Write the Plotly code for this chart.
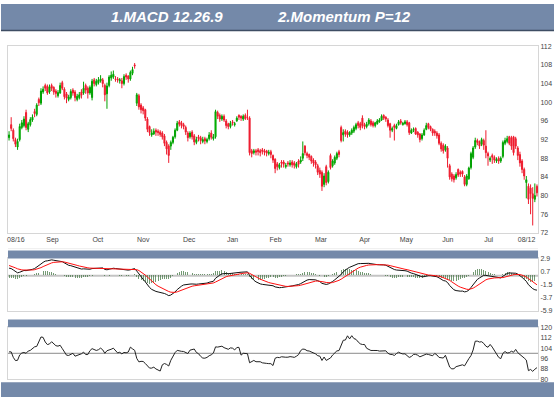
import plotly.graph_objects as go
import pandas as pd

W, H = 554, 400

# closes before the first visible day (used only to warm up MACD / Momentum)
warmup_close = [
    84.0, 84.6, 85.2, 84.8, 85.6, 86.4, 86.0, 86.8, 87.4, 87.0,
    87.8, 88.4, 88.0, 88.9, 89.6, 89.2, 90.0, 90.6, 90.2, 91.0,
    91.6, 91.2, 92.0, 92.6, 92.2, 93.0, 93.4, 92.6, 92.0, 93.4,
    95.2, 96.4, 96.8, 96.0, 95.4, 95.8, 94.6, 93.8, 94.2, 93.6,
]

opens = [
    92.4, 95.2, 94.0, 92.0, 90.4, 92.0, 94.6, 95.0, 97.8, 94.2,
    95.2, 96.2, 98.0, 97.4, 100.6, 99.8, 102.2, 103.6, 103.4, 102.2,
    103.6, 103.2, 102.4, 101.4, 102.0, 104.2, 102.8, 101.8, 100.6, 101.0,
    102.6, 102.2, 100.6, 101.0, 102.2, 102.0, 103.6, 103.0, 102.0, 101.0,
    104.8, 103.8, 104.2, 104.6, 104.8, 103.6, 101.8, 103.6, 105.2, 105.4,
    105.0, 105.0, 104.6, 104.6, 104.0, 105.8, 105.6, 105.0, 106.2, 108.0,
    99.8, 101.4, 99.4, 98.8, 98.4, 96.4, 94.8, 93.0, 93.2, 94.0,
    93.8, 93.6, 93.4, 92.8, 91.4, 90.6, 90.6, 91.4, 92.6, 94.0,
    95.8, 95.6, 95.2, 94.6, 93.4, 92.6, 93.6, 92.8, 91.4, 92.6,
    92.4, 91.6, 92.2, 91.6, 92.2, 93.4, 92.2, 92.6, 97.8, 97.2,
    96.4, 97.0, 96.0, 95.4, 94.8, 95.8, 95.2, 96.0, 97.2, 97.0,
    96.4, 97.2, 96.8, 96.6, 89.6, 89.2, 89.6, 89.8, 89.6, 89.8,
    89.6, 89.6, 89.0, 89.4, 88.6, 87.8, 86.8, 86.0, 87.2, 87.2,
    86.2, 87.0, 86.6, 87.2, 87.0, 86.2, 87.4, 87.2, 88.0, 90.6,
    89.0, 88.8, 88.4, 87.6, 87.2, 86.4, 85.4, 85.0, 82.4, 86.2,
    83.0, 88.6, 86.4, 87.0, 88.0, 89.4, 94.6, 93.0, 93.8, 93.6,
    93.0, 93.4, 93.8, 94.4, 95.6, 95.4, 96.6, 95.2, 94.8, 95.4,
    96.0, 95.6, 95.0, 95.4, 95.8, 96.2, 97.2, 96.8, 96.2, 95.4,
    94.0, 95.0, 94.4, 95.2, 96.0, 95.2, 95.4, 95.8, 95.6, 93.4,
    94.0, 94.4, 93.6, 93.2, 92.2, 93.0, 94.2, 95.4, 94.8, 94.2,
    93.8, 93.4, 93.0, 91.2, 90.8, 89.8, 90.2, 86.4, 84.6, 84.2,
    83.8, 85.6, 85.0, 85.2, 84.0, 82.4, 83.6, 86.0, 88.2, 90.4,
    91.8, 91.6, 91.0, 91.8, 90.6, 89.0, 87.6, 88.6, 88.2, 87.4,
    88.0, 87.4, 88.4, 91.2, 91.6, 92.6, 92.4, 92.6, 92.2, 90.2,
    88.8, 87.4, 85.6, 82.8, 82.0, 81.6, 80.4, 79.2, 82.0,
]

highs = [
    93.8, 96.8, 94.4, 92.4, 92.2, 95.4, 96.2, 97.0, 98.4, 95.8,
    96.8, 97.4, 98.6, 99.8, 101.0, 103.0, 103.4, 104.0, 103.8, 103.8,
    104.0, 103.4, 102.8, 102.6, 104.2, 104.6, 103.2, 102.2, 101.6, 102.8,
    103.0, 102.6, 101.8, 102.2, 102.8, 104.4, 104.0, 103.4, 103.6, 105.0,
    105.2, 105.0, 105.4, 105.8, 105.2, 104.0, 104.2, 105.8, 106.6, 106.8,
    105.6, 105.4, 105.2, 105.2, 106.0, 106.2, 105.8, 106.8, 107.6, 108.4,
    102.0, 101.8, 99.8, 99.2, 98.6, 96.8, 95.0, 94.2, 94.4, 94.4,
    94.2, 94.0, 93.8, 93.2, 91.8, 91.0, 91.8, 92.8, 94.4, 96.0,
    96.2, 96.0, 95.6, 95.0, 93.8, 93.8, 94.0, 93.2, 92.6, 93.0,
    92.8, 92.6, 92.6, 92.4, 93.6, 94.0, 93.2, 98.4, 98.2, 97.6,
    97.4, 97.4, 96.4, 95.6, 96.0, 96.2, 95.8, 97.0, 97.4, 97.2,
    97.4, 97.6, 98.4, 97.0, 90.0, 90.0, 90.0, 90.2, 90.0, 90.2,
    90.0, 89.8, 89.8, 89.8, 88.8, 88.0, 87.2, 87.0, 87.6, 87.6,
    87.0, 87.4, 87.6, 87.6, 87.4, 87.2, 87.8, 88.4, 91.6, 90.8,
    89.4, 89.0, 88.6, 88.0, 87.6, 86.8, 86.0, 85.4, 84.8, 86.6,
    85.4, 89.0, 87.8, 88.6, 89.4, 89.8, 95.0, 94.2, 94.2, 94.0,
    93.8, 94.4, 95.0, 95.6, 96.0, 95.8, 97.2, 95.6, 95.8, 96.6,
    96.4, 96.0, 95.8, 96.4, 96.6, 97.4, 97.4, 97.0, 96.6, 95.6,
    94.8, 95.4, 95.4, 96.2, 96.4, 95.8, 96.2, 96.2, 95.8, 94.4,
    94.6, 94.6, 93.8, 93.4, 93.4, 94.4, 95.6, 95.6, 95.0, 94.4,
    94.2, 93.8, 93.4, 91.6, 91.2, 91.0, 90.6, 86.8, 85.0, 84.6,
    85.0, 85.8, 85.4, 85.4, 84.4, 84.6, 86.2, 89.4, 90.6, 92.4,
    92.2, 91.8, 92.4, 92.2, 94.0, 89.4, 88.4, 89.0, 88.6, 88.2,
    88.4, 88.4, 91.8, 92.4, 92.8, 92.8, 92.8, 92.8, 92.6, 90.6,
    89.4, 87.8, 86.0, 84.2, 82.6, 82.4, 81.8, 82.6, 82.4,
]

lows = [
    91.8, 93.8, 91.6, 90.4, 89.8, 91.6, 94.2, 94.6, 94.0, 93.6,
    94.8, 95.8, 96.8, 97.0, 99.2, 99.4, 101.8, 102.4, 101.6, 101.8,
    102.4, 101.6, 101.0, 101.0, 101.8, 102.6, 100.6, 99.8, 100.2, 100.6,
    101.4, 100.2, 100.2, 100.6, 100.8, 101.6, 101.8, 100.8, 101.6, 100.4,
    103.4, 103.4, 103.8, 104.2, 103.2, 100.2, 98.6, 103.2, 104.6, 105.0,
    104.4, 104.2, 104.0, 103.0, 103.6, 104.8, 104.2, 104.6, 105.8, 107.2,
    99.2, 98.4, 97.6, 97.4, 96.0, 93.6, 92.8, 92.6, 93.0, 92.8,
    92.8, 92.6, 92.0, 90.6, 88.8, 87.0, 89.8, 91.0, 92.2, 93.8,
    94.8, 94.4, 94.2, 93.0, 91.6, 92.2, 92.0, 90.8, 91.0, 91.6,
    91.0, 91.2, 91.0, 91.2, 91.8, 92.0, 91.8, 92.2, 96.4, 95.8,
    96.0, 95.8, 94.4, 94.2, 94.4, 95.0, 94.8, 95.8, 96.2, 96.0,
    96.0, 96.2, 96.2, 88.6, 88.2, 88.8, 88.6, 88.6, 88.4, 88.8,
    88.6, 88.4, 88.6, 88.0, 87.0, 84.8, 85.4, 85.6, 86.0, 86.0,
    85.8, 86.2, 86.2, 86.0, 85.8, 85.8, 86.0, 86.8, 87.4, 88.6,
    88.0, 87.6, 86.8, 86.2, 85.8, 84.4, 83.8, 81.0, 81.8, 82.2,
    82.6, 85.6, 86.0, 86.6, 87.6, 88.2, 91.4, 91.6, 92.6, 92.4,
    92.6, 93.0, 93.4, 94.0, 94.4, 94.0, 94.4, 94.2, 94.4, 95.0,
    94.8, 94.6, 94.6, 95.2, 95.6, 96.0, 96.2, 95.8, 94.6, 92.4,
    93.6, 91.8, 94.2, 95.0, 95.2, 95.0, 95.2, 94.8, 93.0, 93.2,
    93.6, 93.0, 92.4, 91.4, 91.8, 92.8, 94.0, 94.2, 93.8, 92.8,
    92.8, 92.2, 90.8, 89.4, 89.0, 89.4, 86.0, 83.4, 83.0, 82.8,
    83.4, 84.0, 84.0, 84.0, 82.0, 82.0, 83.4, 85.6, 87.8, 90.0,
    90.8, 90.0, 90.6, 89.8, 88.0, 86.4, 87.2, 86.8, 87.0, 87.0,
    86.8, 87.0, 88.0, 90.8, 91.2, 90.8, 89.8, 88.6, 90.0, 87.6,
    86.2, 84.8, 83.4, 79.4, 78.2, 76.0, 73.6, 78.6, 79.8,
]

closes = [
    93.0, 94.4, 92.2, 91.0, 91.6, 94.8, 95.6, 96.4, 94.6, 95.4,
    96.3, 96.8, 97.6, 99.4, 99.9, 102.4, 102.8, 103.0, 102.0, 103.3,
    103.0, 102.2, 101.9, 102.1, 103.6, 103.0, 101.2, 100.9, 101.1, 102.3,
    102.0, 101.0, 101.3, 101.6, 101.5, 103.0, 102.6, 102.0, 103.2, 104.5,
    104.0, 104.5, 104.8, 105.0, 104.0, 101.6, 103.5, 105.4, 105.8, 106.0,
    104.9, 104.8, 104.8, 104.0, 105.5, 105.4, 105.0, 106.4, 107.0, 107.8,
    101.6, 99.0, 98.4, 98.2, 96.6, 94.2, 93.5, 93.4, 93.8, 93.6,
    93.5, 93.1, 92.6, 91.2, 90.0, 88.6, 91.4, 92.5, 94.0, 95.5,
    95.3, 95.0, 94.8, 93.6, 92.4, 93.4, 92.6, 91.5, 92.0, 92.2,
    91.8, 92.0, 91.7, 92.0, 93.0, 92.5, 92.6, 98.0, 97.0, 96.4,
    97.0, 96.2, 95.0, 94.8, 95.5, 95.6, 95.4, 96.6, 96.8, 96.6,
    97.0, 96.5, 96.7, 89.2, 89.0, 89.6, 89.3, 89.4, 89.2, 89.5,
    89.3, 89.1, 89.3, 88.8, 87.6, 85.8, 86.2, 86.6, 86.9, 86.7,
    86.5, 86.8, 87.0, 86.6, 86.5, 86.8, 86.7, 87.6, 89.0, 89.2,
    88.6, 88.2, 87.4, 87.0, 86.6, 85.0, 84.6, 82.0, 84.2, 82.8,
    85.0, 86.0, 87.4, 88.2, 89.0, 88.8, 91.8, 93.5, 93.2, 93.0,
    93.5, 94.0, 94.6, 95.2, 95.0, 94.6, 95.0, 94.8, 95.3, 96.2,
    95.2, 95.0, 95.6, 96.0, 96.2, 97.0, 96.6, 96.4, 95.0, 94.0,
    94.4, 94.6, 95.0, 95.8, 95.6, 95.5, 95.8, 95.2, 93.5, 94.0,
    94.2, 93.2, 93.0, 92.0, 93.0, 94.0, 95.0, 94.6, 94.2, 93.4,
    93.4, 92.8, 91.2, 90.0, 89.6, 90.6, 88.0, 84.0, 83.6, 83.4,
    84.5, 84.4, 84.6, 84.6, 82.4, 84.2, 85.9, 89.0, 90.2, 91.8,
    91.4, 90.6, 92.0, 90.8, 89.2, 88.5, 88.0, 88.2, 87.6, 87.8,
    87.4, 88.0, 91.4, 91.8, 92.2, 91.2, 90.6, 89.2, 90.6, 88.6,
    87.0, 85.6, 84.2, 83.4, 79.2, 80.4, 79.4, 80.0, 80.6,
]

x_tick_labels = ["08/16", "Sep", "Oct", "Nov", "Dec", "Jan", "Feb",
                 "Mar", "Apr", "May", "Jun", "Jul", "08/12"]
x_tick_index = [3.2, 20.4, 41.7, 63.0, 84.6, 105.0, 125.2,
                146.5, 167.1, 186.6, 206.1, 225.3, 243.1]

price_ticks = [72, 76, 80, 84, 88, 92, 96, 100, 104, 108, 112]
macd_ticks = [-5.9, -3.7, -1.5, 0.7, 2.9]
mom_ticks = [80, 88, 96, 104, 112, 120]

MACD_FAST, MACD_SLOW, MACD_SIG = 12, 26, 9
MOM_P = 12

# ---- indicators ----
all_close = pd.Series(warmup_close + closes, dtype=float)
ema_f = all_close.ewm(span=MACD_FAST, adjust=False).mean()
ema_s = all_close.ewm(span=MACD_SLOW, adjust=False).mean()
macd = ema_f - ema_s
signal = macd.ewm(span=MACD_SIG, adjust=False).mean()
hist = macd - signal
mom = all_close / all_close.shift(MOM_P) * 100.0

nw = len(warmup_close)
n = len(closes)
idx = list(range(n))
macd_v = macd.iloc[nw:].tolist()
sig_v = signal.iloc[nw:].tolist()
hist_v = hist.iloc[nw:].tolist()
mom_v = mom.iloc[nw:].tolist()

# ---- geometry (pixels -> paper) ----
def px(x):
    return x / W

def py(y):
    return 1 - y / H

X0, X1 = 7, 538
BAND = "#7489A9"
FRAME = "#D6D6D6"

fig = go.Figure()

fig.add_trace(go.Candlestick(
    x=idx, open=opens, high=highs, low=lows, close=closes,
    increasing=dict(line=dict(color="#00A000", width=1), fillcolor="#00E000"),
    decreasing=dict(line=dict(color="#EE1C2E", width=1), fillcolor="#EE1C2E"),
    whiskerwidth=0, xaxis="x", yaxis="y", hoverinfo="skip",
))

fig.add_trace(go.Bar(
    x=idx, y=hist_v, marker=dict(color="rgba(70,120,70,0.75)", line=dict(width=0)),
    width=0.45, xaxis="x2", yaxis="y2", hoverinfo="skip",
))
fig.add_trace(go.Scatter(
    x=idx, y=macd_v, mode="lines", line=dict(color="#111111", width=1),
    xaxis="x2", yaxis="y2", hoverinfo="skip",
))
fig.add_trace(go.Scatter(
    x=idx, y=sig_v, mode="lines", line=dict(color="#FF1010", width=1),
    xaxis="x2", yaxis="y2", hoverinfo="skip",
))

fig.add_trace(go.Scatter(
    x=idx, y=mom_v, mode="lines", line=dict(color="#222222", width=1),
    xaxis="x3", yaxis="y3", hoverinfo="skip",
))

xr = [-0.5, n - 0.5]
tick_font = dict(family="Liberation Sans, Arial, sans-serif", size=7, color="#444444")

common_x = dict(domain=[px(X0), px(X1)], range=xr, showgrid=False, zeroline=False,
                showline=True, linecolor=FRAME, linewidth=1, mirror=True, ticks="",
                fixedrange=True)

fig.update_layout(
    width=W, height=H,
    margin=dict(l=0, r=0, t=0, b=0),
    paper_bgcolor="white", plot_bgcolor="white",
    showlegend=False, hovermode=False, bargap=0,
    xaxis=dict(**common_x, anchor="y", rangeslider=dict(visible=False),
               tickmode="array", tickvals=x_tick_index, ticktext=x_tick_labels,
               tickfont=tick_font),
    yaxis=dict(domain=[py(233), py(43)], range=[72, 112], side="right", anchor="x",
               tickmode="array", tickvals=price_ticks, tickfont=tick_font,
               showgrid=False, zeroline=False, showline=True, linecolor=FRAME,
               mirror=True, ticks="", fixedrange=True),
    xaxis2=dict(**common_x, anchor="y2", matches="x", showticklabels=False),
    yaxis2=dict(domain=[py(312), py(259)], range=[-5.9, 2.9], side="right", anchor="x2",
                tickmode="array", tickvals=macd_ticks,
                ticktext=[f"{v:.1f}" for v in macd_ticks], tickfont=tick_font,
                showgrid=False, zeroline=False, showline=True, linecolor=FRAME,
                mirror=True, ticks="", fixedrange=True),
    xaxis3=dict(**common_x, anchor="y3", matches="x", showticklabels=False),
    yaxis3=dict(domain=[py(382), py(329)], range=[80, 120], side="right", anchor="x3",
                tickmode="array", tickvals=mom_ticks, tickfont=tick_font,
                showgrid=False, zeroline=False, showline=True, linecolor=FRAME,
                mirror=True, ticks="", fixedrange=True),
)

shapes = [
    # header bar
    dict(type="rect", xref="paper", yref="paper", x0=0, x1=1, y0=py(27), y1=1,
         fillcolor=BAND, line=dict(width=0), layer="above"),
    dict(type="line", xref="paper", yref="paper", x0=0, x1=1, y0=py(27), y1=py(27),
         line=dict(color="#3E4D63", width=1.5)),
    # main panel lower frame line
    dict(type="line", xref="paper", yref="paper", x0=px(X0), x1=px(X1), y0=py(249), y1=py(249),
         line=dict(color="#EEEEEE", width=1)),
    # MACD band
    dict(type="rect", xref="paper", yref="paper", x0=px(X0), x1=px(X1), y0=py(259), y1=py(251),
         fillcolor=BAND, line=dict(width=0)),
    # Momentum band
    dict(type="rect", xref="paper", yref="paper", x0=px(X0), x1=px(X1), y0=py(329), y1=py(321),
         fillcolor=BAND, line=dict(width=0)),
    # bottom band
    dict(type="rect", xref="paper", yref="paper", x0=0, x1=1, y0=0, y1=py(385),
         fillcolor=BAND, line=dict(width=0)),
    # MACD zero line
    dict(type="line", xref="x2 domain", yref="y2", x0=0, x1=1, y0=0, y1=0,
         line=dict(color="#C4C4C4", width=2), layer="below"),
    # Momentum 100 line
    dict(type="line", xref="x3 domain", yref="y3", x0=0, x1=1, y0=100, y1=100,
         line=dict(color="#8A8A8A", width=1), layer="below"),
]
fig.update_layout(shapes=shapes)

title_font = dict(family="Liberation Sans, Arial, sans-serif", size=15, color="white")
fig.add_annotation(text=f"<b><i>1.MACD {MACD_FAST}.{MACD_SLOW}.{MACD_SIG}</i></b>",
                   xref="paper", yref="paper", x=px(166), y=py(13),
                   showarrow=False, font=title_font, xanchor="center", yanchor="middle")
fig.add_annotation(text=f"<b><i>2.Momentum P={MOM_P}</i></b>",
                   xref="paper", yref="paper", x=px(344), y=py(13),
                   showarrow=False, font=title_font, xanchor="center", yanchor="middle")

fig.write_html(
    "out.html",
    config={"displayModeBar": False},
    post_script="document.body.style.margin='0';document.body.style.padding='0';",
)
